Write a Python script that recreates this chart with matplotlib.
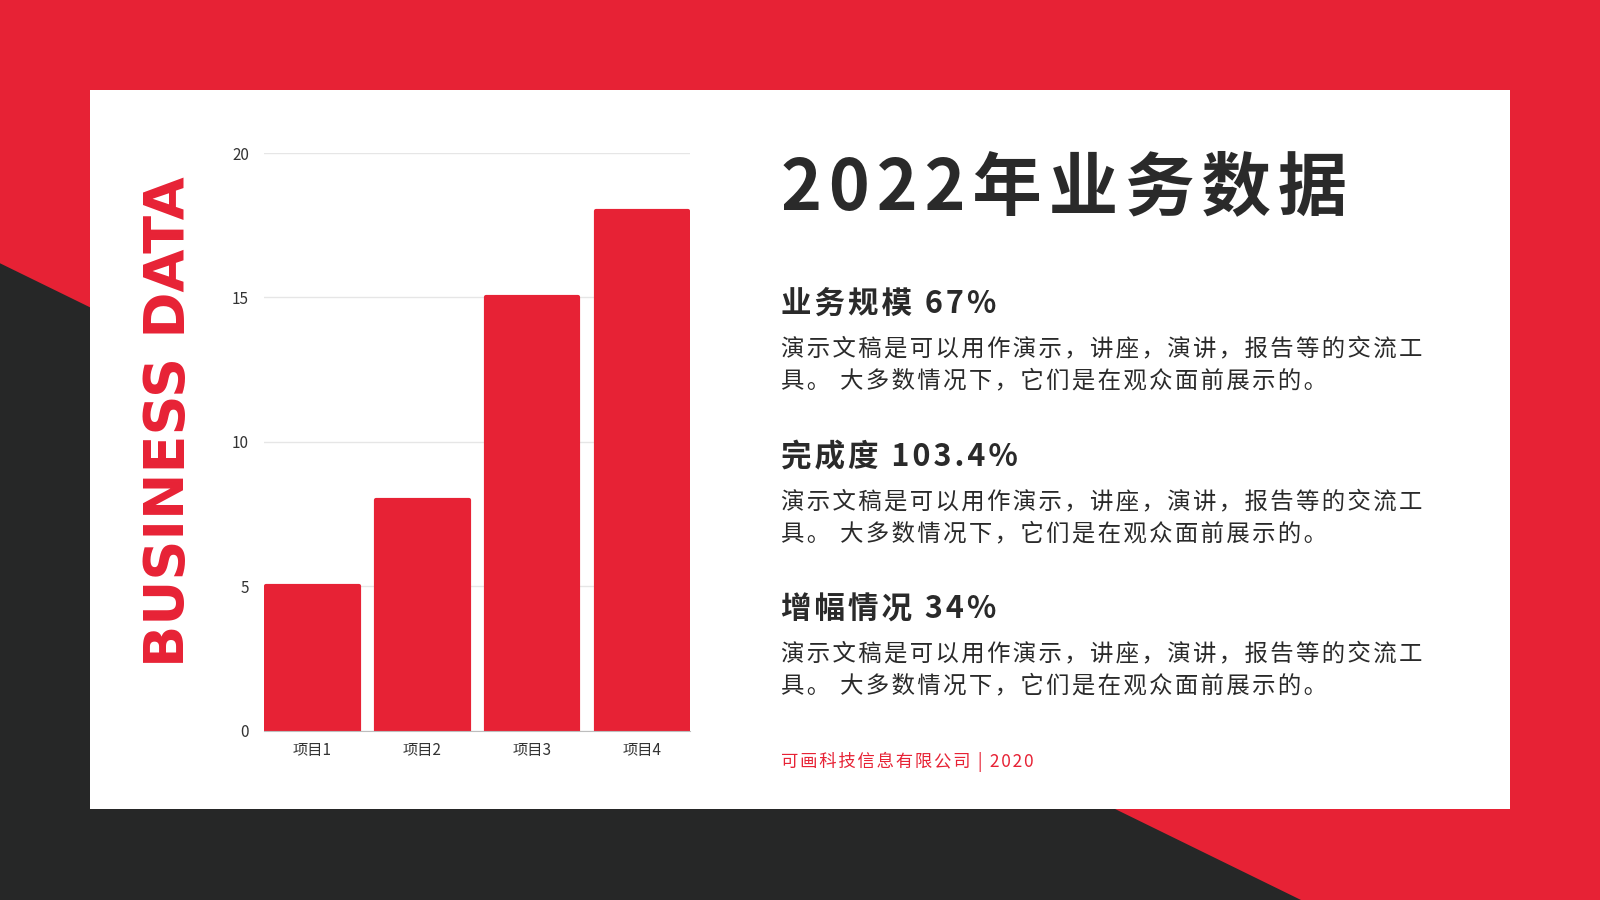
import matplotlib
matplotlib.use("Agg")
import matplotlib.pyplot as plt
from matplotlib.patches import Rectangle, Polygon

plt.rcParams['font.family'] = ['Noto Sans CJK SC', 'DejaVu Sans']

RED = '#E72235'
DARK = '#262727'
TEXT = '#2A2A2A'

categories = ['项目1', '项目2', '项目3', '项目4']
values = [5, 8, 15, 18]
yticks = [0, 5, 10, 15, 20]

title = '2022年业务数据'
headings = ['业务规模 67%', '完成度 103.4%', '增幅情况 34%']
body = ['演示文稿是可以用作演示，讲座，演讲，报告等的交流工',
        '具。 大多数情况下，它们是在观众面前展示的。']
footer = '可画科技信息有限公司 | 2020'

W, H = 1568.0, 882.0


def fx(x):
    return x / W


def fy(y):
    return 1 - y / H


def spaced(s):
    # letter spacing with hair spaces (falls back to DejaVu)
    return '\u200a'.join(s)


fig = plt.figure(figsize=(16, 9), dpi=100, facecolor=RED)

# background shapes
fig.patches.append(Polygon([(0, fy(258)), (fx(1275), 0), (0, 0)], closed=True,
                           transform=fig.transFigure, facecolor=DARK, edgecolor='none', zorder=-2))
fig.patches.append(Rectangle((fx(88), fy(793)), fx(1480) - fx(88), fy(88) - fy(793),
                             transform=fig.transFigure, facecolor='white', edgecolor='none', zorder=-1))

# bar chart
ax = fig.add_axes([fx(259), fy(716), fx(676) - fx(259), fy(150) - fy(716)])
ax.set_zorder(5)
ax.set_facecolor('none')
x = range(len(categories))
# thick round-joined edge gives the slightly rounded tops
ax.bar(x, values, width=0.845, color=RED, edgecolor=RED, linewidth=3,
       joinstyle='round', zorder=3)
ax.set_xlim(-0.435, len(categories) - 0.565)
ax.set_ylim(0, 20)
ax.set_yticks(yticks)
ax.set_xticks(list(x))
ax.set_xticklabels(categories)
ax.yaxis.grid(True, color='#E6E6E6', linewidth=1)
ax.set_axisbelow(True)
for s in ['top', 'right', 'left']:
    ax.spines[s].set_visible(False)
ax.spines['bottom'].set_color('#BDBDBD')
ax.spines['bottom'].set_zorder(4)
ax.tick_params(axis='both', length=0, labelsize=11, colors='#333333')
ax.tick_params(axis='y', pad=11)
ax.tick_params(axis='x', pad=8)

fig.text(fx(166), fy(413), 'BUSINESS DATA', rotation=90, color=RED,
         fontsize=40, fontweight='heavy', family='DejaVu Sans',
         ha='center', va='center')

# right side text
fig.text(fx(765), fy(185), spaced(title), color=TEXT, fontsize=50, fontweight='black',
         ha='left', va='center')

head_y = [298, 448, 597]
for hy, head in zip(head_y, headings):
    fig.text(fx(765), fy(hy), spaced(head), color=TEXT, fontsize=22, fontweight='bold',
             ha='left', va='center')
    fig.text(fx(765), fy(hy + 44), spaced(body[0]), color=TEXT, fontsize=16.85,
             ha='left', va='center')
    fig.text(fx(765), fy(hy + 75), spaced(body[1]), color=TEXT, fontsize=16.85,
             ha='left', va='center')

fig.text(fx(765), fy(747), spaced(footer), color=RED, fontsize=12.5, ha='left', va='center')

fig.savefig('out.png', dpi=100, facecolor=RED)
